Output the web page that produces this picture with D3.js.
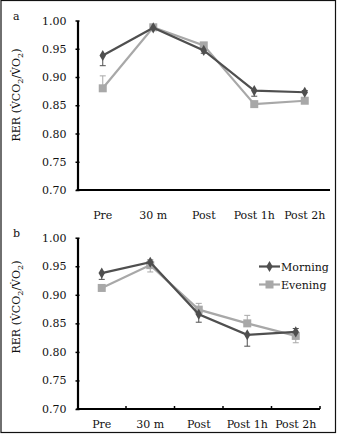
<!DOCTYPE html>
<html>
<head>
<meta charset="utf-8">
<script src="https://cdn.jsdelivr.net/npm/d3@7"></script>
<style>
  html, body { margin: 0; padding: 0; background: #fff; }
  svg { display: block; }
  text { font-family: "DejaVu Serif", "Liberation Serif", serif; fill: #111; }
</style>
</head>
<body>
<svg id="chart" width="337" height="435"></svg>
<script>
// Time points
const timepoints = ["Pre", "30 m", "Post", "Post 1h", "Post 2h"];
const yTicks = [0.70, 0.75, 0.80, 0.85, 0.90, 0.95, 1.00];

// Panel a: RER means (session a)
const morningA = [0.938, 0.987, 0.947, 0.876, 0.873];
const eveningA = [0.880, 0.988, 0.956, 0.852, 0.858];
// Error bars, signed: negative drawn below the mean, positive above
const morningErrA = [-0.018, 0.003, -0.005, -0.010, 0.003];
const eveningErrA = [0.022, 0.003, 0.004, -0.004, 0.003];

// Panel b: RER means (session b)
const morningB = [0.938, 0.957, 0.866, 0.830, 0.835];
const eveningB = [0.912, 0.952, 0.874, 0.850, 0.828];
const morningErrB = [-0.011, 0.004, -0.014, -0.020, 0.006];
const eveningErrB = [0.004, -0.012, 0.011, 0.014, -0.012];

const seriesNames = ["Morning", "Evening"];
const colMorning = "#4f4f4f";
const colEvening = "#a8a8a8";

const svg = d3.select("#chart");

// outer frame
svg.append("rect").attr("x", 1).attr("y", 0.5).attr("width", 334.5).attr("height", 432)
  .attr("fill", "none").attr("stroke", "#111").attr("stroke-width", 1.2);

function panel(opts) {
  const g = svg.append("g");
  const x = d3.scaleBand().domain(timepoints).range([opts.x0, opts.x1]);
  const y = d3.scaleLinear().domain([0.70, 1.00]).range([opts.yBottom, opts.yTop]);
  const cx = d => x(d) + x.bandwidth() / 2;

  // x axis line
  g.append("line").attr("x1", opts.x0 - 1).attr("x2", opts.x1)
    .attr("y1", opts.yBottom).attr("y2", opts.yBottom)
    .attr("stroke", "#000").attr("stroke-width", 2.2);
  if (opts.xTicks) {
    timepoints.forEach(t => {
      g.append("line").attr("x1", x(t) + x.bandwidth()).attr("x2", x(t) + x.bandwidth())
        .attr("y1", opts.yBottom).attr("y2", opts.yBottom - 3)
        .attr("stroke", "#000").attr("stroke-width", 1.5);
    });
  }
  // y axis
  const yAxis = d3.axisLeft(y).tickValues(yTicks).tickFormat(d3.format(".2f"))
    .tickSize(-3).tickSizeOuter(0).tickPadding(11);
  const ya = g.append("g").attr("transform", `translate(${opts.x0},0)`).call(yAxis);
  ya.select(".domain").attr("stroke", "#000").attr("stroke-width", 2.2);
  ya.selectAll(".tick line").attr("stroke", "#000").attr("stroke-width", 1.5)
    .attr("x1", -2).attr("x2", 2);
  ya.selectAll(".tick text").attr("font-size", 11)
    .attr("font-family", "DejaVu Serif").attr("fill", "#111");

  // x labels
  g.selectAll("text.xl").data(timepoints).join("text").attr("class", "xl")
    .attr("x", d => cx(d)).attr("y", opts.yBottom + opts.labelGap)
    .attr("text-anchor", "middle").attr("font-size", 11).text(d => d);

  // y title
  const tt = g.append("text")
    .attr("transform", `translate(${opts.titleX},${opts.titleY}) rotate(-90)`)
    .attr("text-anchor", "middle").attr("font-size", 11);
  tt.append("tspan").text("RER (V\u0307CO");
  tt.append("tspan").attr("font-size", 8).attr("dy", 3).text("2");
  tt.append("tspan").attr("dy", -3).text("/V\u0307O");
  tt.append("tspan").attr("font-size", 8).attr("dy", 3).text("2");
  tt.append("tspan").attr("dy", -3).text(")");

  // panel letter
  g.append("text").attr("x", 13).attr("y", opts.letterY).attr("font-size", 11).text(opts.letter);

  const line = d3.line().x((d, i) => cx(timepoints[i])).y(d => y(d));

  function errBars(vals, errs, col) {
    vals.forEach((v, i) => {
      const e = errs[i];
      const xx = cx(timepoints[i]);
      const yEnd = y(v + e);
      g.append("line").attr("x1", xx).attr("x2", xx).attr("y1", y(v)).attr("y2", yEnd)
        .attr("stroke", col).attr("stroke-width", 1);
      g.append("line").attr("x1", xx - 3).attr("x2", xx + 3).attr("y1", yEnd).attr("y2", yEnd)
        .attr("stroke", col).attr("stroke-width", 1);
    });
  }
  errBars(opts.morning, opts.morningErr, colMorning);
  errBars(opts.evening, opts.eveningErr, colEvening);

  // evening series (squares)
  g.append("path").datum(opts.evening).attr("d", line)
    .attr("fill", "none").attr("stroke", colEvening).attr("stroke-width", 2.2);
  g.selectAll("rect.ev").data(opts.evening).join("rect").attr("class", "ev")
    .attr("x", (d, i) => cx(timepoints[i]) - 4).attr("y", d => y(d) - 4)
    .attr("width", 8).attr("height", 8).attr("fill", colEvening);

  // morning series (diamonds)
  g.append("path").datum(opts.morning).attr("d", line)
    .attr("fill", "none").attr("stroke", colMorning).attr("stroke-width", 2.2);
  const diamond = d3.symbol().type(d3.symbolDiamond).size(36);
  g.selectAll("path.mo").data(opts.morning).join("path").attr("class", "mo")
    .attr("transform", (d, i) => `translate(${cx(timepoints[i])},${y(d)})`)
    .attr("d", diamond).attr("fill", colMorning);

  if (opts.legend) {
    const lg = g.append("g");
    [[seriesNames[0], colMorning, 266.5], [seriesNames[1], colEvening, 284.5]].forEach(([name, col, ly], k) => {
      lg.append("line").attr("x1", 259).attr("x2", 280).attr("y1", ly).attr("y2", ly)
        .attr("stroke", col).attr("stroke-width", 2.2);
      if (k === 0) {
        lg.append("path").attr("transform", `translate(269.5,${ly})`).attr("d", diamond).attr("fill", col);
      } else {
        lg.append("rect").attr("x", 265.5).attr("y", ly - 4).attr("width", 8).attr("height", 8).attr("fill", col);
      }
      lg.append("text").attr("x", 281).attr("y", ly + 4).attr("font-size", 11).text(name);
    });
  }
}

panel({
  x0: 77.5, x1: 330, yTop: 20.5, yBottom: 190, labelGap: 29,
  morning: morningA, evening: eveningA, morningErr: morningErrA, eveningErr: eveningErrA,
  xTicks: false, legend: false, titleX: 20, titleY: 95, letter: "a", letterY: 19.5
});
panel({
  x0: 77.5, x1: 320, yTop: 237.7, yBottom: 409, labelGap: 19,
  morning: morningB, evening: eveningB, morningErr: morningErrB, eveningErr: eveningErrB,
  xTicks: true, legend: true, titleX: 20, titleY: 307, letter: "b", letterY: 237
});
</script>
</body>
</html>
